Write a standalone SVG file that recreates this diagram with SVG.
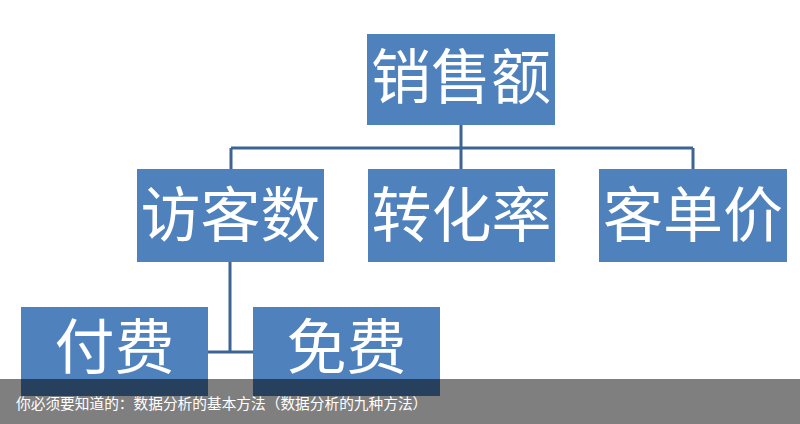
<svg xmlns="http://www.w3.org/2000/svg" width="800" height="424" viewBox="0 0 800 424">
<style>
.box{fill:#4F81BD}
.lbl{font-family:"Noto Sans CJK SC","Noto Sans CJK JP",sans-serif;font-size:60px;fill:#FFFFFF;text-anchor:middle}
.conn{stroke:#3D6494;stroke-width:3;fill:none}
.cap{font-family:"Noto Sans CJK SC",sans-serif;font-size:14.7px;fill:#FFFFFF}
</style>
<rect width="800" height="424" fill="#FFFFFF"/>
<g id="connectors">
<path class="conn" d="M461,125 V148 M231,148 H693 M231,148 V169 M461,148 V169 M693,148 V169"/>
<path class="conn" d="M230,262 V352 M208,352 H253"/>
</g>
<g id="n-sales"><rect class="box" x="367" y="34" width="188" height="91"/><text class="lbl" x="461" y="99">销售额</text></g>
<g id="n-visitors"><rect class="box" x="137" y="169" width="187" height="93"/><text class="lbl" x="230.5" y="237">访客数</text></g>
<g id="n-conversion"><rect class="box" x="368" y="169" width="187" height="93"/><text class="lbl" x="461.5" y="237">转化率</text></g>
<g id="n-aov"><rect class="box" x="599" y="169" width="188" height="93"/><text class="lbl" x="693" y="237">客单价</text></g>
<g id="n-paid"><rect class="box" x="21" y="307" width="187" height="89"/><text class="lbl" x="114.5" y="369">付费</text></g>
<g id="n-free"><rect class="box" x="253" y="307" width="187" height="89"/><text class="lbl" x="346.5" y="369">免费</text></g>
<rect x="0" y="379" width="800" height="45" fill="#000000" fill-opacity="0.5"/>
<text class="cap" x="16" y="409">你必须要知道的：数据分析的基本方法（数据分析的九种方法）</text>
</svg>
